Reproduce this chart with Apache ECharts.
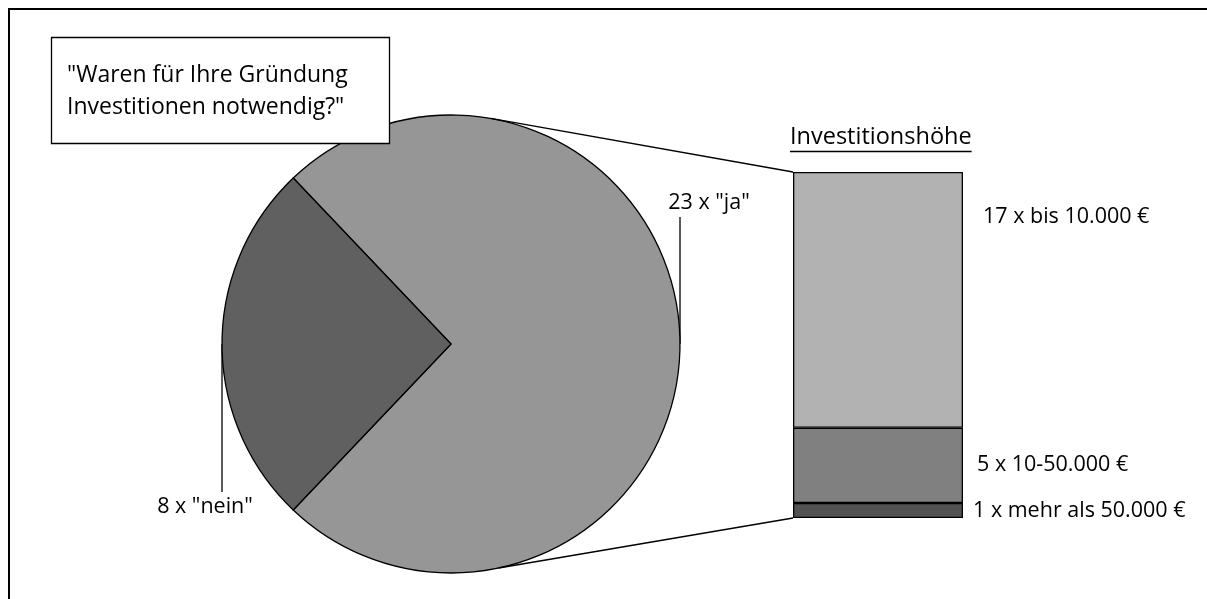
<!DOCTYPE html>
<html>
<head>
<meta charset="utf-8">
<script src="https://cdn.jsdelivr.net/npm/echarts@6/dist/echarts.min.js"></script>
<style>
html,body{margin:0;padding:0;background:#fff;}
#c{width:1207px;height:599px;}
</style>
</head>
<body>
<div id="c"></div>
<script>
// ---- data ----
const pieNames = ['ja', 'nein'];
const pieValues = [23, 8];
const barNames = ['mehr als 50.000 €', '10-50.000 €', 'bis 10.000 €'];
const barValues = [1, 5, 17];
const titleLines = ['"Waren für Ihre Gründung', 'Investitionen notwendig?"'];
const barTitle = 'Investitionshöhe';

// ---- styles / layout ----
const FONT = 'Open Sans';
const LBL = 21.5;
const pieColors = ['#969696', '#606060'];
const barColors = ['#525252', '#808080', '#b2b2b2'];
const cx = 451, cy = 344, R = 229;
const gridLeft = 793, gridTop = 172, gridW = 170, gridH = 346;

const total = pieValues.reduce((a, b) => a + b, 0);
const neinSpan = pieValues[1] / total * 360;
const startAngle = 180 - neinSpan / 2;
const midAngles = [];
{
  let a = startAngle;
  pieValues.forEach(v => { const s = v / total * 360; midAngles.push(a - s / 2); a -= s; });
}

const chart = echarts.init(document.getElementById('c'), null, {renderer: 'canvas'});

const barSeries = barValues.map((v, i) => ({
  type: 'bar',
  stack: 'inv',
  name: barNames[i],
  data: [v],
  barWidth: '100%',
  itemStyle: {color: barColors[i], borderColor: '#000', borderWidth: 1.3},
  label: {
    show: true,
    position: 'right',
    distance: i === 2 ? 20 : (i === 1 ? 14 : 10),
    offset: i === 2 ? [0, -83] : [0, 0],
    formatter: p => p.value + ' x ' + barNames[i],
    fontFamily: FONT, fontSize: LBL, color: '#000'
  },
  emphasis: {disabled: true},
  animation: false
}));

chart.setOption({
  animation: false,
  grid: {left: gridLeft, top: gridTop, width: gridW, height: gridH},
  xAxis: {type: 'category', data: [''], show: false, boundaryGap: true},
  yAxis: {type: 'value', min: 0, max: barValues.reduce((a, b) => a + b, 0), show: false},
  series: [
    {
      type: 'pie',
      center: [cx, cy],
      radius: R,
      startAngle: startAngle,
      clockwise: true,
      data: pieNames.map((n, i) => ({name: n, value: pieValues[i], itemStyle: {color: pieColors[i]}})),
      itemStyle: {borderColor: '#000', borderWidth: 1.3},
      label: {
        show: true, position: 'outside',
        formatter: p => p.value + ' x "' + p.name + '"',
        fontFamily: FONT, fontSize: LBL, color: '#000'
      },
      labelLine: {show: true, lineStyle: {color: '#000', width: 1.3}},
      labelLayout: function (p) {
        const a = midAngles[p.dataIndex] * Math.PI / 180;
        const ex = cx + R * Math.cos(a), ey = cy - R * Math.sin(a);
        if (p.dataIndex === 0) {
          return {x: ex + 29, y: ey - 141, align: 'center', verticalAlign: 'middle',
            labelLinePoints: [[ex, ey], [ex, ey - 127], [ex, ey - 127]]};
        }
        return {x: ex - 17, y: ey + 163, align: 'center', verticalAlign: 'middle',
          labelLinePoints: [[ex, ey], [ex, ey + 148], [ex, ey + 148]]};
      },
      emphasis: {disabled: true},
      silent: true,
      z: 1
    },
    ...barSeries
  ]
});

// connector lines & decorations
const yTop = chart.convertToPixel({yAxisIndex: 0}, barValues.reduce((a, b) => a + b, 0));
const yBot = chart.convertToPixel({yAxisIndex: 0}, 0);
const xBand = chart.convertToPixel({xAxisIndex: 0}, 0) - gridW / 2;
const aT = 80 * Math.PI / 180, aB = -78 * Math.PI / 180;

const ctx = document.createElement('canvas').getContext('2d');
ctx.font = '23.5px "' + FONT + '"';
const tw = ctx.measureText(barTitle).width;

chart.setOption({
  graphic: [
    {type: 'line', shape: {x1: 8, y1: 9, x2: 1207, y2: 9}, style: {stroke: '#000', lineWidth: 2}, z: 50},
    {type: 'line', shape: {x1: 9, y1: 8, x2: 9, y2: 599}, style: {stroke: '#000', lineWidth: 2}, z: 50},
    {type: 'line', shape: {x1: cx + R * Math.cos(aT), y1: cy - R * Math.sin(aT), x2: xBand, y2: yTop},
      style: {stroke: '#000', lineWidth: 1.3}, z: 50},
    {type: 'line', shape: {x1: cx + R * Math.cos(aB), y1: cy - R * Math.sin(aB), x2: xBand, y2: yBot},
      style: {stroke: '#000', lineWidth: 1.3}, z: 50},
    {type: 'rect', shape: {x: 51.5, y: 37.5, width: 338, height: 106},
      style: {fill: '#fff', stroke: '#000', lineWidth: 1.3}, z: 60},
    {type: 'text', x: 67, y: 59, z: 61,
      style: {text: titleLines.join('\n'), font: '23px "' + FONT + '"', fill: '#000', lineHeight: 32, verticalAlign: 'top'}},
    {type: 'text', x: 790, y: 137, z: 61,
      style: {text: barTitle, font: '23.5px "' + FONT + '"', fill: '#000', verticalAlign: 'middle'}},
    {type: 'line', shape: {x1: 790, y1: 151.5, x2: 790 + tw, y2: 151.5}, style: {stroke: '#000', lineWidth: 1.5}, z: 61}
  ]
});
</script>
</body>
</html>
